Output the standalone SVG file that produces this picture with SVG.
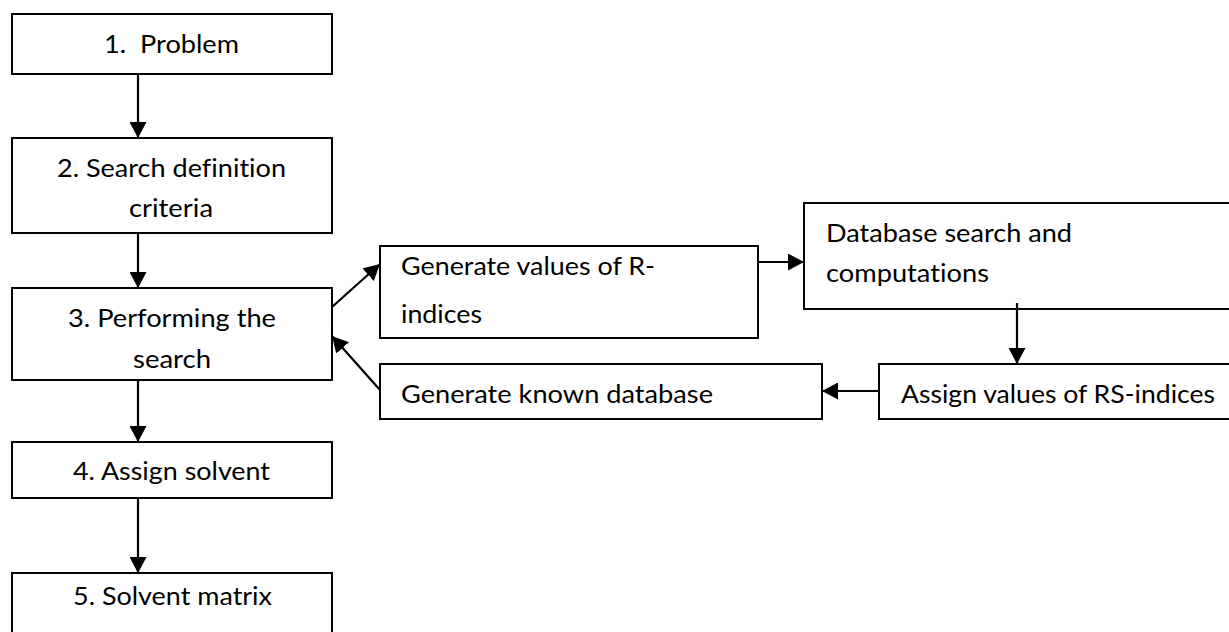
<svg xmlns="http://www.w3.org/2000/svg" width="1229" height="632" viewBox="0 0 1229 632">
  <style>
    .box { fill: #ffffff; stroke: #000000; stroke-width: 2; }
    .lbl { font-family: Lato, "Open Sans", "Liberation Sans", sans-serif; font-size: 25px; fill: #000000; font-variant-ligatures: none; }
    .edge { stroke: #000000; stroke-width: 2.2; fill: none; marker-end: url(#head); }
  </style>
  <defs>
    <marker id="head" markerUnits="userSpaceOnUse" markerWidth="17" markerHeight="17" refX="16" refY="8.5" orient="auto">
      <path d="M0,0 L16,8.5 L0,17 z" fill="#000000"/>
    </marker>
  </defs>
  <rect width="1229" height="632" fill="#ffffff"/>

  <!-- main column -->
  <g id="problem">
    <rect class="box" x="12" y="14" width="320" height="60"/>
    <text class="lbl" x="104" y="53" textLength="135" lengthAdjust="spacingAndGlyphs" xml:space="preserve">1.  Problem</text>
  </g>
  <g id="criteria">
    <rect class="box" x="12" y="138" width="320" height="95"/>
    <text class="lbl" x="57" y="177" textLength="229" lengthAdjust="spacingAndGlyphs">2. Search definition</text>
    <text class="lbl" x="129" y="217" textLength="84" lengthAdjust="spacingAndGlyphs">criteria</text>
  </g>
  <g id="search">
    <rect class="box" x="12" y="288" width="320" height="92"/>
    <text class="lbl" x="68" y="327" textLength="208" lengthAdjust="spacingAndGlyphs">3. Performing the</text>
    <text class="lbl" x="133" y="368" textLength="78" lengthAdjust="spacingAndGlyphs">search</text>
  </g>
  <g id="solvent">
    <rect class="box" x="12" y="442" width="320" height="56"/>
    <text class="lbl" x="73" y="480" textLength="197" lengthAdjust="spacingAndGlyphs">4. Assign solvent</text>
  </g>
  <g id="matrix">
    <rect class="box" x="12" y="573" width="320" height="70"/>
    <text class="lbl" x="73" y="605" textLength="199" lengthAdjust="spacingAndGlyphs">5. Solvent matrix</text>
  </g>

  <!-- search loop -->
  <g id="r-indices">
    <rect class="box" x="380" y="246" width="378" height="92"/>
    <text class="lbl" x="401" y="275" textLength="254" lengthAdjust="spacingAndGlyphs">Generate values of R-</text>
    <text class="lbl" x="401" y="323" textLength="81" lengthAdjust="spacingAndGlyphs">indices</text>
  </g>
  <g id="database-search">
    <rect class="box" x="804" y="203" width="440" height="106"/>
    <text class="lbl" x="826" y="242" textLength="246" lengthAdjust="spacingAndGlyphs">Database search and</text>
    <text class="lbl" x="826" y="282" textLength="163" lengthAdjust="spacingAndGlyphs">computations</text>
  </g>
  <g id="rs-indices">
    <rect class="box" x="879" y="364" width="360" height="55"/>
    <text class="lbl" x="901" y="403" textLength="314" lengthAdjust="spacingAndGlyphs">Assign values of RS-indices</text>
  </g>
  <g id="known-database">
    <rect class="box" x="380" y="364" width="442" height="55"/>
    <text class="lbl" x="401" y="403" textLength="312" lengthAdjust="spacingAndGlyphs">Generate known database</text>
  </g>

  <g id="connectors">
    <line class="edge" x1="138" y1="74" x2="138" y2="138"/>
    <line class="edge" x1="138" y1="233" x2="138" y2="288"/>
    <line class="edge" x1="138" y1="380" x2="138" y2="442"/>
    <line class="edge" x1="138" y1="498" x2="138" y2="573"/>
    <line class="edge" x1="332" y1="307" x2="380" y2="264"/>
    <line class="edge" x1="380" y1="390" x2="332" y2="336"/>
    <line class="edge" x1="758" y1="262" x2="804" y2="262"/>
    <line class="edge" x1="1017" y1="303" x2="1017" y2="364"/>
    <line class="edge" x1="879" y1="391" x2="822" y2="391"/>
  </g>
</svg>
